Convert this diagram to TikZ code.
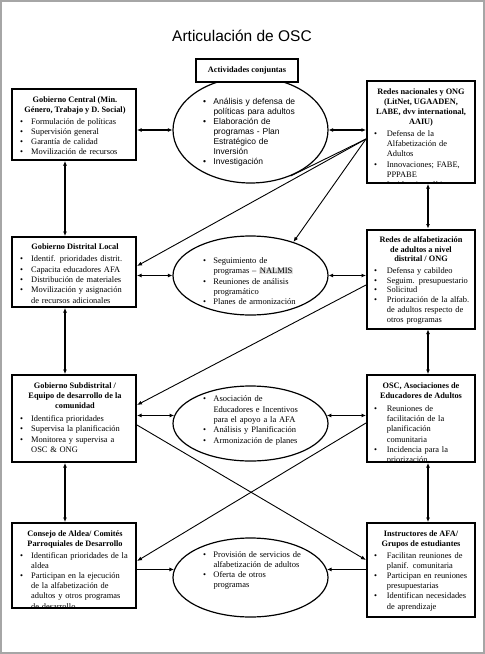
\documentclass[tikz,border=0pt]{standalone}
\usepackage{fontspec}
\setmainfont{Liberation Serif}
\newfontfamily\arialf{Liberation Sans}
\usetikzlibrary{arrows.meta,calc,shapes.geometric}
\newlength\tx
\newcommand\itm[1]{\par\hangindent=\tx\hangafter=1\noindent\hbox to \tx{\textbullet\hfil}#1}
\newcommand\fl{\rule{0pt}{8pt}}
\newcommand\hlt[1]{{\setlength\fboxsep{0.6pt}\colorbox{black!12}{#1}}}
\tikzset{
 boxst/.style={draw, line width=2pt, fill=white, inner sep=0pt, rectangle},
 ellst/.style={draw, ellipse, line width=1.2pt, inner sep=0pt},
 hd/.style={anchor=north, align=center, inner sep=0pt, font=\fontsize{8.3}{#1}\selectfont\bfseries},
 hd/.default=10.2,
 bl/.style={anchor=north west, inner sep=0pt, text width=150pt, align=left, font=\fontsize{8.4}{#1}\selectfont},
 bl/.default=10.2,
 el/.style={anchor=north west, inner sep=0pt, text width=150pt, align=left, font=\fontsize{8.5}{#1}\selectfont},
 el/.default=10.3,
 dbl/.style={line width=1.8pt, {Latex[length=4.5pt,width=4pt]}-{Latex[length=4.5pt,width=4pt]}},
 one/.style={line width=1.8pt, -{Latex[length=4.5pt,width=4pt]}},
 diag/.style={line width=0.9pt, -{Latex[length=5pt,width=4pt]}},
 plain/.style={line width=0.9pt}
}
\begin{document}
\begin{tikzpicture}[x=1pt,y=-1pt]
\useasboundingbox (0,0) rectangle (485,654);
\fill[white] (0,0) rectangle (485,654);
\draw[line width=2pt, color=black!35] (1,1) rectangle (484,653);

\node[anchor=base, inner sep=0pt, font=\arialf\fontsize{15.5}{18}\selectfont] (title) at (242,41) {Articulación de OSC};

% ellipses
\node[ellst, minimum width=155pt, minimum height=106pt] (e1) at (250.5,130) {};
\node[ellst, minimum width=155pt, minimum height=79pt] (e2) at (250.5,275.5) {};
\node[ellst, minimum width=155pt, minimum height=75pt] (e3) at (250.5,423.5) {};
\node[ellst, minimum width=155pt, minimum height=79pt] (e4) at (250.5,577.5) {};

% boxes
\node[boxst, minimum width=102pt, minimum height=22.7pt, font=\fontsize{8.3}{10}\selectfont\bfseries] (act) at (247,70.7) {Actividades conjuntas};
\node[boxst, minimum width=124pt, minimum height=71pt] (gc) at (74,124.5) {};
\node[boxst, minimum width=108pt, minimum height=102pt] (rn) at (421,132) {};
\node[boxst, minimum width=124pt, minimum height=70pt] (gd) at (74,272) {};
\node[boxst, minimum width=108pt, minimum height=99pt] (ra) at (421,279) {};
\node[boxst, minimum width=124pt, minimum height=87pt] (gs) at (74,418.5) {};
\node[boxst, minimum width=108pt, minimum height=87pt] (osc) at (421,418.5) {};
\node[boxst, minimum width=124pt, minimum height=85pt] (ca) at (74,565.5) {};
\node[boxst, minimum width=108pt, minimum height=94pt] (ins) at (421,570) {};

% box texts
\begin{scope}
\clip ($(gc.north west)+(1,1)$) rectangle ($(gc.south east)+(-1,-1)$);
\node[hd=10] (gch) at (75,94.5) {\fl Gobierno Central (Min.\\Género, Trabajo y D. Social)};
\node[bl=10] (gcb) at (20,114.5) {\setlength\tx{11pt}%
\itm{\fl Formulación de políticas}\itm{Supervisión general}\itm{Garantía de calidad}\itm{Movilización de recursos}\par};
\end{scope}

\begin{scope}
\clip ($(rn.north west)+(1,1)$) rectangle ($(rn.south east)+(-1,-1)$);
\node[hd=10.1] (rnh) at (421,86) {\fl Redes nacionales y ONG\\(LitNet, UGAADEN,\\LABE, dvv international,\\AAIU)};
\node[bl=10.1] (rnb) at (374,126.4) {\setlength\tx{12.7pt}%
\itm{\fl Defensa de la\newline Alfabetización de\newline Adultos}\itm{Innovaciones; FABE,\newline PPPABE}\itm{Incidencia política}\par};
\end{scope}

\begin{scope}
\clip ($(gd.north west)+(1,1)$) rectangle ($(gd.south east)+(-1,-1)$);
\node[hd=10.3] (gdh) at (75,241) {\fl Gobierno Distrital Local};
\node[bl=10.3] (gdb) at (20,251.3) {\setlength\tx{11pt}%
\itm{\fl Identif. prioridades distrit.}\itm{Capacita educadores AFA}\itm{Distribución de materiales}\itm{Movilización y asignación\newline de recursos adicionales}\par};
\end{scope}

\begin{scope}
\clip ($(ra.north west)+(1,1)$) rectangle ($(ra.south east)+(-1,-1)$);
\node[hd=9.4] (rah) at (421,234.7) {\fl Redes de alfabetización\\de adultos a nivel\\distrital / ONG};
\node[bl=9.75] (rab) at (374,263.3) {\setlength\tx{12.7pt}%
\itm{\fl Defensa y cabildeo}\itm{Seguim. presupuestario}\itm{Solicitud}\itm{Priorización de la alfab.\newline de adultos respecto de\newline otros programas}\par};
\end{scope}

\begin{scope}
\clip ($(gs.north west)+(1,1)$) rectangle ($(gs.south east)+(-1,-1)$);
\node[hd=10.3] (gsh) at (75,380) {\fl Gobierno Subdistrital /\\Equipo de desarrollo de la\\comunidad};
\node[bl=10.3] (gsb) at (20,410.9) {\setlength\tx{11pt}%
\itm{\fl Identifica prioridades}\itm{Supervisa la planificación}\itm{Monitorea y supervisa a\newline OSC \& ONG}\par};
\end{scope}

\begin{scope}
\clip ($(osc.north west)+(1,1)$) rectangle ($(osc.south east)+(-1,-1)$);
\node[hd=10.3] (osch) at (421,380) {\fl OSC, Asociaciones de\\Educadores de Adultos};
\node[bl=10.3] (oscb) at (374,400.6) {\setlength\tx{12.7pt}%
\itm{\fl Reuniones de\newline facilitación de la\newline planificación\newline comunitaria}\itm{Incidencia para la\newline priorización}\par};
\end{scope}

\begin{scope}
\clip ($(ca.north west)+(1,1)$) rectangle ($(ca.south east)+(-1,-1)$);
\node[hd=10.1] (cah) at (75,528) {\fl Consejo de Aldea/ Comités\\Parroquiales de Desarrollo};
\node[bl=10.1] (cab) at (20,548.2) {\setlength\tx{11pt}%
\itm{\fl Identifican prioridades de la\newline aldea}\itm{Participan en la ejecución\newline de la alfabetización de\newline adultos y otros programas\newline de desarrollo}\par};
\end{scope}

\begin{scope}
\clip ($(ins.north west)+(1,1)$) rectangle ($(ins.south east)+(-1,-1)$);
\node[hd=10.1] (insh) at (421,528) {\fl Instructores de AFA/\\Grupos de estudiantes};
\node[bl=10.1] (insb) at (374,548.2) {\setlength\tx{12.7pt}%
\itm{\fl Facilitan reuniones de\newline planif. comunitaria}\itm{Participan en reuniones\newline presupuestarias}\itm{Identifican necesidades\newline de aprendizaje}\par};
\end{scope}

% ellipse texts
\node[el=10, font=\arialf\fontsize{8.5}{10}\selectfont] (e1t) at (203,94) {\setlength\tx{10.3pt}%
\itm{\fl Análisis y defensa de\newline políticas para adultos}\itm{Elaboración de\newline programas - Plan\newline Estratégico de\newline Inversión}\itm{Investigación}\par};
\node[el=10.3] (e2t) at (203,253) {\setlength\tx{10.3pt}%
\itm{\fl Seguimiento de\newline programas – \hlt{NALMIS}}\itm{Reuniones de análisis\newline programático}\itm{Planes de armonización}\par};
\node[el=10.4] (e3t) at (203,391) {\setlength\tx{10.3pt}%
\itm{\fl Asociación de\newline Educadores e Incentivos\newline para el apoyo a la AFA}\itm{Análisis y Planificación}\itm{Armonización de planes}\par};
\node[el=10] (e4t) at (203,547) {\setlength\tx{10.3pt}%
\itm{\fl Provisión de servicios de\newline alfabetización de adultos}\itm{Oferta de otros\newline programas}\par};

% vertical connectors
\coordinate (xl) at (65,0);
\coordinate (xr) at (428,0);
\draw[dbl] (gc.south -| xl) -- (gd.north -| xl);
\draw[dbl] (gd.south -| xl) -- (gs.north -| xl);
\draw[dbl] (gs.south -| xl) -- (ca.north -| xl);
\draw[dbl] (rn.south -| xr) -- (ra.north -| xr);
\draw[dbl] (ra.south -| xr) -- (osc.north -| xr);
\draw[dbl] (osc.south -| xr) -- (ins.north -| xr);

% horizontal connectors
\draw[dbl] (gc.east |- e1.west) -- (e1.west);
\draw[dbl] (e1.east) -- (rn.west |- e1.east);
\draw[dbl] (gd.east |- e2.west) -- (e2.west);
\draw[dbl] (e2.east) -- (ra.west |- e2.east);
\draw[dbl] (gs.east |- e3.174) -- (e3.174);
\draw[dbl] (e3.6) -- (osc.west |- e3.6);
\draw[one] (ca.east |- e4.174) -- (e4.174);
\draw[one] (ins.west |- e4.6) -- (e4.6);

% diagonal connectors
\coordinate (rnA) at ($(rn.west)+(0,7)$);
\draw[diag] (rnA) -- ($(gd.east)+(0,-6)$);
\draw[diag] (rnA) -- (e2.38);
\draw[plain] (rnA) -- (e1.311);
\draw[diag] ($(ra.west)+(0,6)$) -- ($(gs.east)+(0,-13.5)$);
\draw[diag] ($(gs.east)+(0,6.5)$) -- ($(ins.west)+(0,-10)$);
\draw[diag] ($(osc.west)+(0,4.5)$) -- ($(ca.east)+(0,-4.5)$);
\end{tikzpicture}
\end{document}
